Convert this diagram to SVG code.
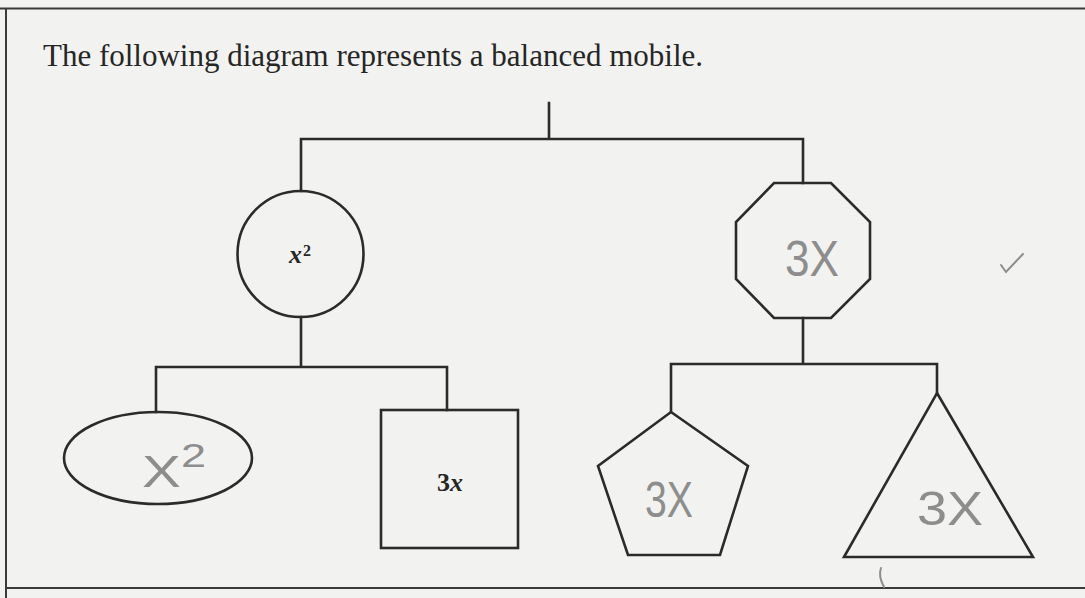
<svg xmlns="http://www.w3.org/2000/svg" width="1085" height="598" viewBox="0 0 1085 598">
<style>
.shape{fill:none;stroke:#2b2b2b;stroke-width:2.6;stroke-linejoin:miter}
.wire{fill:none;stroke:#2b2b2b;stroke-width:2.6;stroke-linecap:square}
.frame{fill:none;stroke:#3a3a3a;stroke-width:2}
.title{font-family:"Liberation Serif","Times New Roman",serif;font-size:32px;fill:#262626}
.print{font-family:"Liberation Serif","Times New Roman",serif;font-weight:bold;fill:#262626}
.hand{font-family:"Liberation Sans",Arial,sans-serif;fill:#8d8d8d}
.pencil{fill:none;stroke:#8d8d8d;stroke-width:2;stroke-linecap:round}
</style>
<rect x="0" y="0" width="1085" height="598" fill="#f2f2f0"/>
<g id="frame">
<path class="frame" d="M0,8.5 H1085 M6,8.5 V598 M6,588 H1085"/>
</g>
<text id="title" class="title" x="43" y="66" textLength="660" lengthAdjust="spacingAndGlyphs">The following diagram represents a balanced mobile.</text>
<g id="connectors">
<path class="wire" d="M549,103 V139 M301,139 H803 M301,139 V191 M803,139 V183"/>
<path class="wire" d="M301,317 V367 M156,367 H447 M156,367 V412 M447,367 V410"/>
<path class="wire" d="M803,318 V364 M671,364 H937 M671,364 V412 M937,364 V393"/>
</g>
<g id="circle">
<circle class="shape" cx="300.5" cy="254" r="63"/>
<text class="print" x="289" y="263" font-size="26" font-style="italic">x</text>
<text class="print" x="303" y="256" font-size="16">2</text>
</g>
<g id="octagon">
<polygon class="shape" points="774,183 831,183 870,222 870,279 831,318 774,318 736,279 736,222"/>
<text class="hand" x="785" y="276" font-size="50" textLength="54" lengthAdjust="spacingAndGlyphs">3X</text>
</g>
<g id="ellipse">
<ellipse class="shape" cx="158" cy="458" rx="94" ry="46"/>
<text class="hand" x="142" y="487" font-size="44" textLength="64" lengthAdjust="spacingAndGlyphs">X<tspan dy="-20" font-size="34">2</tspan></text>
</g>
<g id="square">
<rect class="shape" x="381" y="410" width="137" height="138"/>
<text class="print" x="437" y="491" font-size="26">3<tspan font-style="italic">x</tspan></text>
</g>
<g id="pentagon">
<polygon class="shape" points="671,412 748,466 720,555 628,555 598,466"/>
<text class="hand" x="645" y="517" font-size="50" textLength="48" lengthAdjust="spacingAndGlyphs">3X</text>
</g>
<g id="triangle">
<polygon class="shape" points="937,393 1033,557 844,557"/>
<text class="hand" x="917" y="525" font-size="48" textLength="66" lengthAdjust="spacingAndGlyphs">3X</text>
</g>
<g id="marks">
<path class="pencil" d="M1001,265 L1006,272 L1023,254"/>
<path class="pencil" d="M881,568 Q878,576 884,587"/>
</g>
</svg>
